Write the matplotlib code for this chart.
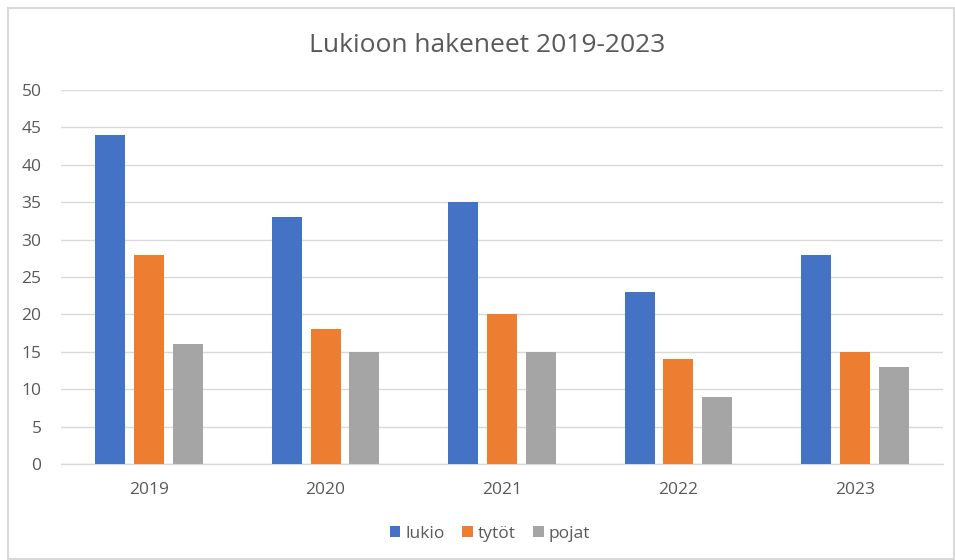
import matplotlib
matplotlib.use("Agg")
import matplotlib.pyplot as plt
import numpy as np
from matplotlib.patches import Rectangle

years = ["2019", "2020", "2021", "2022", "2023"]
lukio = [44, 33, 35, 23, 28]
tytot = [28, 18, 20, 14, 15]
pojat = [16, 15, 15, 9, 13]
series_names = ["lukio", "tytöt", "pojat"]
colors = ["#4472C4", "#ED7D31", "#A5A5A5"]

plt.rcParams['font.family'] = ['Open Sans', 'DejaVu Sans']

fig = plt.figure(figsize=(9.55, 5.6), dpi=100)
fig.patches.append(Rectangle((8/955, 1/560), 946/955, 551/560, transform=fig.transFigure,
                             fill=False, edgecolor="#D9D9D9", linewidth=1.5))
ax = fig.add_axes([61/955, 1-464/560, 882/955, 374/560])

x = np.arange(len(years))
w = 0.17
step = 0.22
for i, (vals, name, c) in enumerate(zip([lukio, tytot, pojat], series_names, colors)):
    ax.bar(x + (i - 1) * step, vals, width=w, color=c, label=name, zorder=3)

ax.set_xlim(-0.5, 4.5)
ax.set_ylim(0, 50)
ax.set_yticks(range(0, 51, 5))
ax.set_xticks(x)
ax.set_xticklabels(years)
ax.grid(axis="y", color="#D9D9D9", linewidth=1, zorder=0)
for s in ["top", "right", "left"]:
    ax.spines[s].set_visible(False)
ax.spines["bottom"].set_color("#D9D9D9")
ax.spines["bottom"].set_linewidth(1)
ax.tick_params(axis="both", length=0, colors="#595959", labelsize=12.5)
ax.tick_params(axis="y", pad=14)
ax.tick_params(axis="x", pad=13)

fig.text(487/955, 1-45/560, "Lukioon hakeneet 2019-2023", ha="center", va="center",
         fontsize=19, color="#595959")

leg = ax.legend(loc="center", bbox_to_anchor=(490/955, 1-534/560), bbox_transform=fig.transFigure,
                ncol=3, frameon=False, fontsize=12.5, handlelength=0.6, handleheight=0.6,
                handletextpad=0.3, columnspacing=1.0)
for t in leg.get_texts():
    t.set_color("#595959")

fig.savefig("out.png", dpi=100)
